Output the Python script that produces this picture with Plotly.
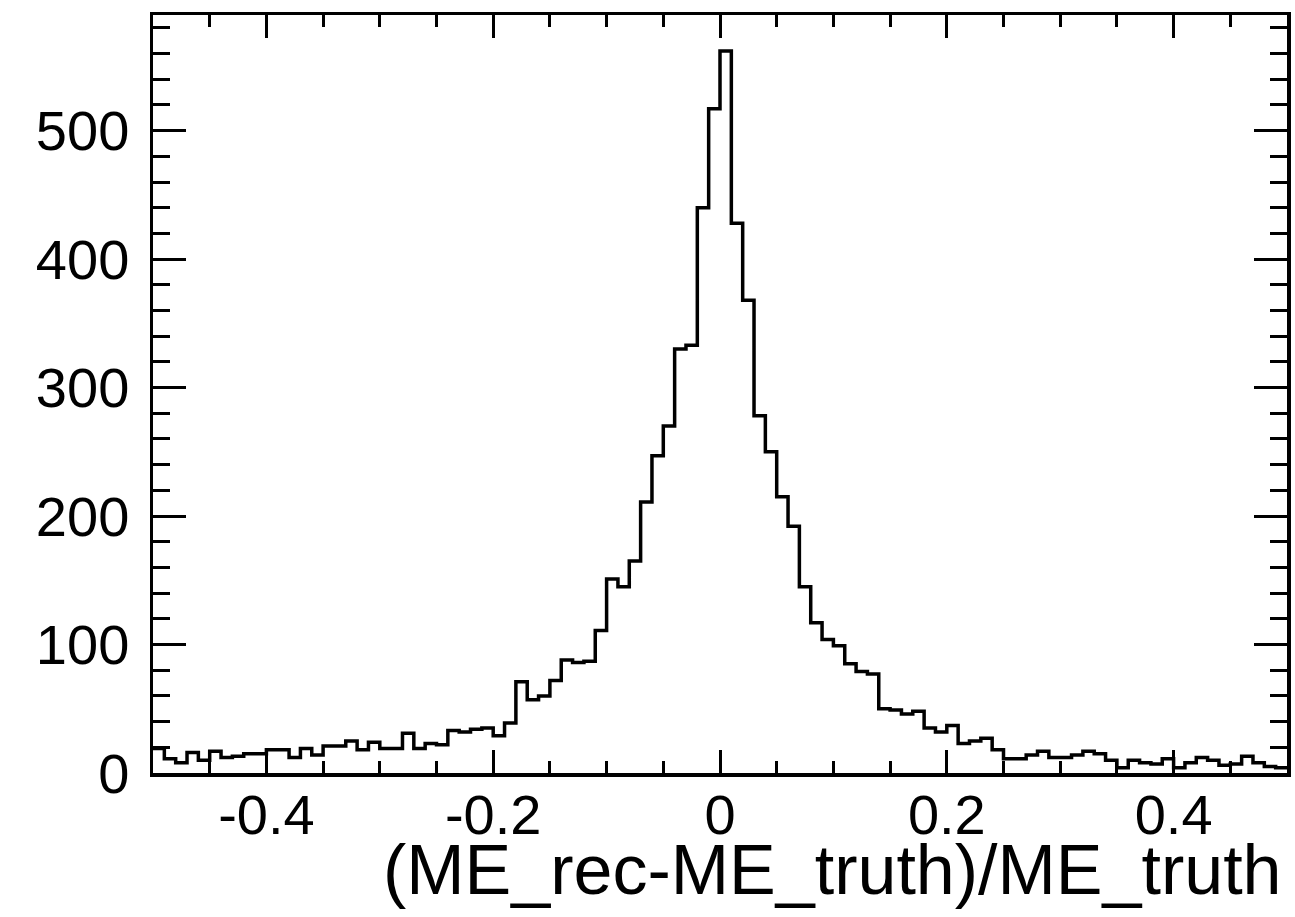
import numpy as np
import plotly.graph_objects as go

# Histogram of (ME_rec-ME_truth)/ME_truth, 100 bins from -0.5 to 0.5
x_min = -0.5
bin_width = 0.01
counts = [
    19, 11, 8, 16, 10, 17, 12, 13, 15, 15,
    18, 18, 12, 19, 14, 21, 21, 25, 18, 24,
    19, 19, 31, 19, 23, 22, 33, 32, 34, 35,
    29, 39, 71, 57, 60, 72, 88, 86, 87, 111,
    151, 145, 165, 211, 247, 270, 330, 333, 440, 517,
    562, 428, 368, 278, 250, 215, 192, 145, 117, 104,
    99, 85, 79, 77, 50, 49, 46, 48, 35, 32,
    37, 23, 25, 27, 18, 11, 11, 14, 17, 12,
    12, 14, 17, 15, 10, 4, 10, 8, 7, 11,
    4, 8, 12, 10, 6, 7, 13, 8, 5, 4,
]
x_tick_vals = [-0.4, -0.2, 0, 0.2, 0.4]
x_tick_text = ["-0.4", "-0.2", "0", "0.2", "0.4"]
y_tick_vals = [0, 100, 200, 300, 400, 500]
y_tick_text = ["0", "100", "200", "300", "400", "500"]
x_title = "(ME_rec-ME_truth)/ME_truth"

edges = x_min + bin_width * np.arange(len(counts) + 1)
y_step = counts + [counts[-1]]

fig = go.Figure()
fig.add_trace(go.Scatter(
    x=edges, y=y_step, mode="lines",
    line=dict(color="black", width=3.5, shape="hv"),
    hoverinfo="skip", showlegend=False,
))

font_family = "Liberation Sans, Arial, Helvetica, sans-serif"

fig.update_layout(
    width=1295, height=917,
    margin=dict(l=153, r=8, t=15, b=144),
    paper_bgcolor="white", plot_bgcolor="white",
    showlegend=False,
    font=dict(family=font_family, color="black"),
    xaxis=dict(
        range=[-0.5, 0.5], automargin=False,
        showgrid=False, zeroline=False,
        showline=True, linecolor="black", linewidth=3.5, mirror="ticks",
        ticks="inside", ticklen=23, tickwidth=3, tickcolor="black",
        tickmode="array", tickvals=x_tick_vals, ticktext=x_tick_text,
        tickfont=dict(size=56, family=font_family, color="black"),
        ticklabelstandoff=-10,
        minor=dict(ticks="inside", ticklen=12, tickwidth=3, tickcolor="black",
                   tick0=-0.5, dtick=0.05, showgrid=False),
    ),
    yaxis=dict(
        range=[0, 590], automargin=False,
        showgrid=False, zeroline=False,
        showline=True, linecolor="black", linewidth=3.5, mirror="ticks",
        ticks="inside", ticklen=33, tickwidth=3, tickcolor="black",
        tickmode="array", tickvals=y_tick_vals, ticktext=y_tick_text,
        tickfont=dict(size=56, family=font_family, color="black"),
        ticklabelstandoff=9,
        minor=dict(ticks="inside", ticklen=17, tickwidth=3, tickcolor="black",
                   tick0=0, dtick=20, showgrid=False),
    ),
    annotations=[dict(
        text=x_title, xref="paper", yref="paper", x=0.9975, y=0,
        xanchor="right", yanchor="top", yshift=-56, showarrow=False,
        font=dict(size=70, family=font_family, color="black"),
    )],
)

fig.write_html(
    "out.html",
    config={"displayModeBar": False, "staticPlot": True},
    post_script="document.body.style.margin='0';document.body.style.overflow='hidden';",
)
